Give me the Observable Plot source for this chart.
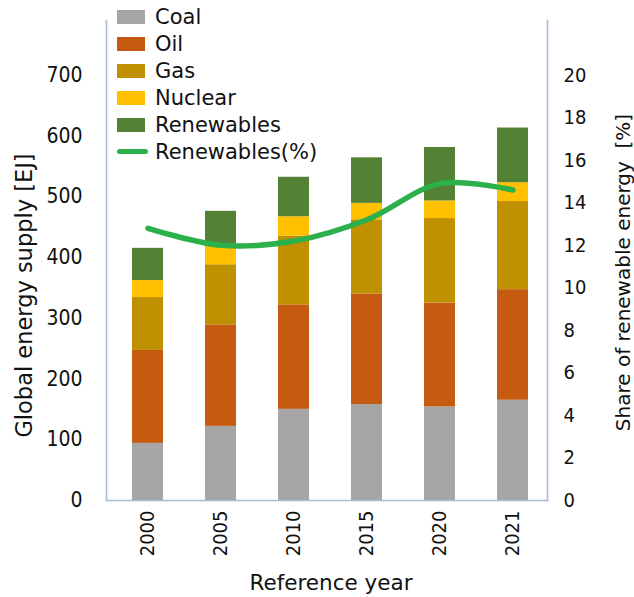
<!DOCTYPE html>
<html>
<head>
<meta charset="utf-8">
<script src="https://cdn.jsdelivr.net/npm/d3@7"></script>
<script src="https://cdn.jsdelivr.net/npm/@observablehq/plot@0.6"></script>
<style>
  body { margin: 0; background: #fff; }
  #chart { position: relative; width: 634px; height: 597px; font-family: "DejaVu Sans", sans-serif; }
  #legend { position: absolute; left: 117px; top: 3px; }
  .row { display: flex; align-items: center; height: 27px; font-size: 21px; color: #111; white-space: nowrap; }
  .sw { width: 28px; height: 14px; margin-right: 10px; }
  .ln { width: 31px; height: 5px; border-radius: 3px; margin-right: 7px; }
</style>
</head>
<body>
<div id="chart"><div id="legend"></div></div>
<script>
// Global primary energy supply by source (EJ) and the renewable share (%)
const years = ["2000", "2005", "2010", "2015", "2020", "2021"];
const sources = ["Coal", "Oil", "Gas", "Nuclear", "Renewables"];
const coal       = [94, 122, 150, 158, 154, 165];
const oil        = [153, 167, 172, 182, 171, 182];
const gas        = [87, 99, 113, 122, 139, 145];
const nuclear    = [28, 30, 32, 27, 29, 31];
const renewables = [53, 58, 65, 75, 88, 90];
const renewableShare = [12.8, 12.0, 12.2, 13.2, 14.9, 14.6];
const shareLabel = "Renewables(%)";

const energyTicks = [0, 100, 200, 300, 400, 500, 600, 700];
const shareTicks = [0, 2, 4, 6, 8, 10, 12, 14, 16, 18, 20];

const yTitle = "Global energy supply [EJ]";
const y2Title = "Share of renewable energy  [%]";
const xTitle = "Reference year";

const sourceColors = ["#a6a6a6", "#c55a11", "#bf9000", "#ffc000", "#548235"];
const lineColor = "#2bb04b";
const frameColor = "#a8bad8";

const series = [coal, oil, gas, nuclear, renewables];
const table = years.flatMap((year, i) =>
  sources.map((source, j) => ({year, source, value: series[j][i]}))
);
const shareRows = years.map((year, i) => ({year, share: renewableShare[i]}));

// the share axis is drawn on the energy scale: 20 % sits at 700 EJ
const k = energyTicks[energyTicks.length - 1] / shareTicks[shareTicks.length - 1];

const tickFont = "'DejaVu Sans Condensed', 'DejaVu Sans', sans-serif";

const chart = Plot.plot({
  width: 634,
  height: 597,
  marginLeft: 106,
  marginRight: 87,
  marginTop: 20,
  marginBottom: 97,
  style: {fontFamily: "'DejaVu Sans', sans-serif", color: "#111", background: "#fff"},
  x: {domain: years, range: [108, 552], paddingInner: 0.58, paddingOuter: 0.3, label: null},
  y: {domain: [0, 790], label: null},
  color: {domain: sources, range: sourceColors},
  marks: [
    Plot.barY(table, {x: "year", y: "value", fill: "source", order: sources}),
    Plot.line(shareRows, {
      x: "year", y: d => d.share * k,
      stroke: lineColor, strokeWidth: 5.5, strokeLinecap: "round", curve: "catmull-rom"
    }),
    Plot.frame({anchor: "left", stroke: frameColor, strokeWidth: 1.6}),
    Plot.frame({anchor: "right", stroke: frameColor, strokeWidth: 1.6}),
    Plot.frame({anchor: "bottom", stroke: frameColor, strokeWidth: 1.6}),
    Plot.axisY({
      anchor: "left", ticks: energyTicks, tickSize: 0, tickPadding: 24,
      fontSize: 21, fontFamily: tickFont, label: null
    }),
    Plot.axisY({
      anchor: "right", ticks: shareTicks.map(t => t * k), tickFormat: d => String(Math.round(d / k)),
      tickSize: 0, tickPadding: 16, fontSize: 20, fontFamily: tickFont, label: null
    }),
    Plot.axisX({
      tickSize: 0, tickRotate: -90, tickPadding: 10,
      fontSize: 20, fontFamily: tickFont, label: null
    }),
    Plot.text([yTitle], {
      frameAnchor: "left", text: d => d, rotate: -90, textAnchor: "middle", lineAnchor: "middle",
      dx: -82, dy: 35, fontSize: 22.5
    }),
    Plot.text([y2Title], {
      frameAnchor: "right", text: d => d, rotate: -90, textAnchor: "middle", lineAnchor: "middle",
      dx: 76, dy: 12, fontSize: 20
    }),
    Plot.text([xTitle], {frameAnchor: "bottom", text: d => d, dx: 4, dy: 89, fontSize: 21.5})
  ]
});

const root = document.getElementById("chart");
root.insertBefore(chart, root.firstChild);

// legend: one swatch per stacked source, then the share line
const legend = d3.select("#legend");
sources.forEach((s, i) => {
  const row = legend.append("div").attr("class", "row");
  row.append("div").attr("class", "sw").style("background", sourceColors[i]);
  row.append("span").text(s);
});
const lrow = legend.append("div").attr("class", "row");
lrow.append("div").attr("class", "ln").style("background", lineColor);
lrow.append("span").text(shareLabel);
</script>
</body>
</html>
